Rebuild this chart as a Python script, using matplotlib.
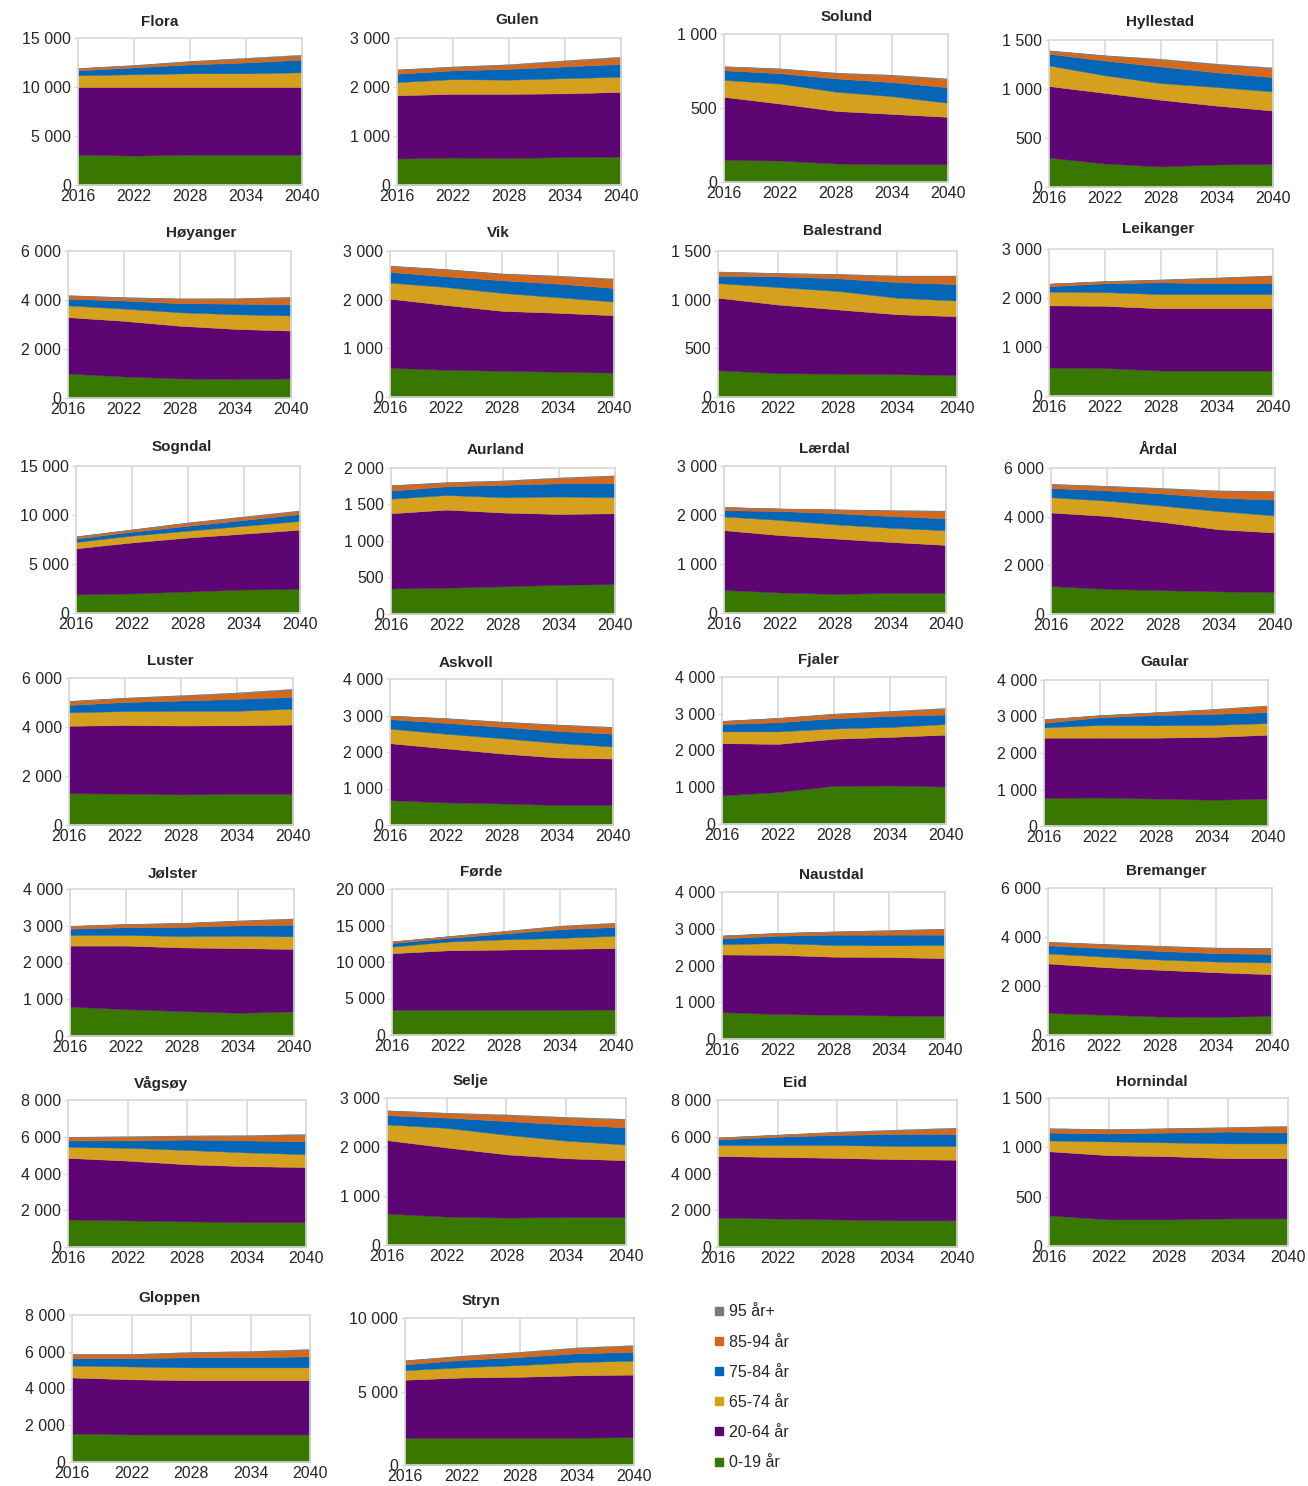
import matplotlib
matplotlib.use('Agg')
import matplotlib.pyplot as plt
from matplotlib.ticker import FuncFormatter, MultipleLocator
from matplotlib.lines import Line2D

plt.rcParams['font.family'] = ['Liberation Sans', 'DejaVu Sans']

years = [2016, 2022, 2028, 2034, 2040]

kommuner = ['Flora', 'Gulen', 'Solund', 'Hyllestad',
            'Høyanger', 'Vik', 'Balestrand', 'Leikanger',
            'Sogndal', 'Aurland', 'Lærdal', 'Årdal',
            'Luster', 'Askvoll', 'Fjaler', 'Gaular',
            'Jølster', 'Førde', 'Naustdal', 'Bremanger',
            'Vågsøy', 'Selje', 'Eid', 'Hornindal',
            'Gloppen', 'Stryn']

age_groups = ['0-19 år', '20-64 år', '65-74 år', '75-84 år', '85-94 år', '95 år+']
colors = ['#387800', '#5c0573', '#d4a01e', '#0566b8', '#d4691e', '#7a7a7a']

# population per age group, one row per kommune, values at the years above
age_0_19 = [
    [3100, 3000, 3100, 3100, 3100], [540, 560, 550, 570, 580],
    [150, 145, 125, 120, 120], [300, 240, 210, 230, 235],
    [1000, 880, 800, 780, 800], [600, 560, 540, 520, 500],
    [275, 245, 240, 235, 225], [580, 570, 520, 520, 520],
    [1900, 2000, 2200, 2400, 2450], [350, 360, 380, 400, 410],
    [470, 420, 390, 410, 410], [1150, 1030, 980, 930, 900],
    [1300, 1280, 1250, 1270, 1270], [680, 620, 590, 550, 550],
    [780, 870, 1040, 1050, 1020], [770, 780, 750, 720, 750],
    [800, 730, 680, 630, 670], [3450, 3450, 3450, 3450, 3500],
    [730, 680, 660, 640, 630], [900, 830, 750, 740, 780],
    [1500, 1450, 1400, 1350, 1350], [640, 580, 560, 570, 570],
    [1600, 1550, 1500, 1450, 1450], [310, 270, 270, 280, 280],
    [1550, 1500, 1500, 1500, 1500], [1850, 1850, 1850, 1850, 1900],
]
age_20_64 = [
    [6900, 7000, 6900, 6900, 6900], [1290, 1300, 1310, 1300, 1320],
    [425, 385, 355, 340, 320], [730, 720, 680, 600, 545],
    [2300, 2270, 2150, 2040, 1950], [1420, 1330, 1230, 1210, 1180],
    [745, 705, 660, 615, 605], [1270, 1270, 1270, 1270, 1270],
    [4700, 5200, 5500, 5700, 6050], [1030, 1070, 1010, 970, 970],
    [1220, 1170, 1130, 1040, 980], [3020, 3000, 2800, 2550, 2450],
    [2750, 2800, 2810, 2800, 2830], [1560, 1480, 1370, 1300, 1270],
    [1420, 1310, 1280, 1320, 1410], [1650, 1640, 1670, 1720, 1750],
    [1660, 1730, 1730, 1760, 1700], [7750, 8150, 8250, 8350, 8400],
    [1570, 1610, 1580, 1590, 1570], [2020, 1940, 1910, 1820, 1700],
    [3350, 3250, 3100, 3050, 3000], [1500, 1410, 1290, 1200, 1160],
    [3350, 3350, 3350, 3330, 3300], [650, 650, 640, 610, 610],
    [3050, 3000, 2950, 2950, 2950], [3950, 4100, 4150, 4250, 4250],
]
age_65_74 = [
    [1200, 1300, 1400, 1400, 1500], [270, 300, 290, 310, 310],
    [115, 135, 130, 120, 95], [210, 180, 170, 190, 195],
    [480, 500, 550, 600, 620], [330, 370, 370, 320, 280],
    [150, 180, 190, 170, 160], [280, 280, 290, 290, 290],
    [650, 700, 700, 800, 900], [200, 200, 210, 240, 220],
    [280, 310, 290, 290, 300], [630, 630, 670, 750, 700],
    [550, 570, 600, 590, 650], [400, 400, 420, 400, 330],
    [320, 340, 280, 270, 290], [280, 350, 340, 330, 320],
    [290, 290, 310, 340, 340], [900, 1200, 1400, 1500, 1700],
    [280, 320, 320, 320, 360], [410, 430, 420, 440, 480],
    [600, 700, 780, 750, 700], [320, 400, 400, 360, 320],
    [600, 650, 700, 720, 750], [110, 140, 140, 150, 150],
    [650, 700, 700, 700, 700], [650, 700, 800, 900, 950],
]
age_75_84 = [
    [500, 700, 900, 1100, 1300], [170, 180, 220, 240, 260],
    [65, 70, 90, 95, 105], [120, 150, 170, 150, 145],
    [270, 330, 370, 430, 450], [220, 220, 260, 280, 280],
    [75, 110, 130, 160, 170], [110, 180, 240, 220, 220],
    [350, 400, 500, 600, 700], [110, 120, 170, 180, 190],
    [130, 180, 230, 240, 240], [380, 420, 500, 550, 650],
    [300, 370, 420, 490, 480], [260, 300, 310, 330, 350],
    [200, 250, 280, 300, 260], [130, 210, 280, 300, 300],
    [170, 210, 250, 280, 320], [500, 500, 800, 1200, 1200],
    [160, 200, 280, 290, 280], [330, 350, 350, 340, 350],
    [350, 400, 570, 650, 700], [190, 210, 280, 330, 350],
    [300, 450, 550, 650, 650], [80, 80, 100, 120, 110],
    [400, 450, 550, 550, 600], [400, 500, 550, 600, 600],
]
age_85_94 = [
    [200, 200, 300, 400, 400], [80, 70, 80, 110, 130],
    [25, 30, 35, 45, 55], [30, 50, 70, 80, 90],
    [130, 120, 180, 200, 280], [120, 140, 130, 150, 180],
    [40, 30, 40, 60, 80], [50, 40, 50, 110, 150],
    [200, 200, 300, 300, 300], [70, 50, 50, 70, 100],
    [60, 50, 70, 110, 150], [150, 170, 200, 270, 320],
    [150, 160, 190, 230, 290], [90, 120, 130, 160, 170],
    [80, 110, 110, 120, 160], [90, 50, 70, 120, 170],
    [70, 80, 100, 120, 150], [200, 200, 300, 400, 500],
    [70, 70, 80, 110, 150], [130, 150, 190, 200, 220],
    [170, 200, 180, 250, 350], [90, 90, 120, 140, 160],
    [100, 100, 150, 200, 300], [40, 40, 40, 40, 60],
    [200, 200, 250, 300, 350], [250, 250, 300, 350, 400],
]
age_95 = [
    [40, 50, 60, 80, 100], [10, 10, 15, 15, 20],
    [3, 3, 4, 5, 5], [5, 5, 8, 8, 10],
    [20, 20, 20, 25, 30], [10, 10, 10, 15, 15],
    [5, 5, 5, 8, 8], [5, 8, 10, 10, 12],
    [30, 40, 50, 60, 70], [5, 8, 10, 10, 10],
    [5, 5, 8, 10, 10], [20, 20, 30, 30, 40],
    [20, 20, 30, 30, 40], [10, 10, 15, 15, 20],
    [10, 10, 15, 15, 20], [10, 10, 10, 15, 15],
    [10, 10, 10, 15, 20], [40, 50, 60, 80, 100],
    [10, 10, 10, 15, 15], [20, 20, 25, 30, 30],
    [30, 30, 40, 40, 50], [10, 10, 15, 15, 15],
    [20, 20, 30, 40, 50], [5, 5, 5, 5, 8],
    [30, 30, 40, 40, 50], [30, 40, 50, 50, 60],
]

y_max = [15000, 3000, 1000, 1500, 6000, 3000, 1500, 3000, 15000, 2000, 3000, 6000,
         6000, 4000, 4000, 4000, 4000, 20000, 4000, 6000, 8000, 3000, 8000, 1500,
         8000, 10000]
y_step = [5000, 1000, 500, 500, 2000, 1000, 500, 1000, 5000, 500, 1000, 2000,
          2000, 1000, 1000, 1000, 1000, 5000, 1000, 2000, 2000, 1000, 2000, 500,
          2000, 5000]

# layout in pixels: plot frame (left, right, top, bottom) and title centre (x, y)
frames = [
    (78, 302, 38, 185), (397, 621, 38, 185), (724, 948, 34, 182), (1049, 1273, 40, 187),
    (68, 291, 251, 398), (390, 614, 251, 397), (718, 957, 251, 397), (1049, 1273, 249, 396),
    (76, 300, 466, 613), (391, 615, 468, 614), (724, 946, 466, 613), (1051, 1275, 468, 614),
    (69, 293, 678, 825), (390, 613, 679, 825), (722, 946, 677, 824), (1044, 1268, 680, 826),
    (70, 294, 889, 1036), (392, 616, 889, 1035), (722, 945, 892, 1039), (1048, 1272, 888, 1035),
    (68, 306, 1100, 1247), (387, 626, 1098, 1245), (718, 957, 1100, 1247), (1049, 1288, 1098, 1246),
    (72, 310, 1315, 1462), (405, 634, 1318, 1465),
]
title_pos = [
    (160, 22), (517, 20), (847, 17), (1160, 22),
    (201, 233), (498, 233), (842, 231), (1158, 229),
    (182, 447), (496, 450), (824, 449), (1158, 450),
    (170, 661), (466, 663), (818, 660), (1165, 662),
    (173, 873), (481, 871), (831, 875), (1166, 871),
    (161, 1083), (471, 1081), (795, 1083), (1152, 1082),
    (170, 1298), (481, 1301),
]

W, H = 1308, 1486
fig = plt.figure(figsize=(W / 100, H / 100), dpi=100)


def space_thousands(v, pos):
    return f'{int(round(v)):,}'.replace(',', ' ')


for i, name in enumerate(kommuner):
    l, r, t, b = frames[i]
    ax = fig.add_axes([l / W, 1 - b / H, (r - l) / W, (b - t) / H])
    series = [age_0_19[i], age_20_64[i], age_65_74[i], age_75_84[i], age_85_94[i], age_95[i]]
    ax.stackplot(years, series, colors=colors, linewidth=0.3,
                 edgecolor='face')
    ax.set_xlim(2016, 2040)
    ax.set_ylim(0, y_max[i])
    ax.set_xticks(years)
    ax.yaxis.set_major_locator(MultipleLocator(y_step[i]))
    ax.yaxis.set_major_formatter(FuncFormatter(space_thousands))
    ax.set_axisbelow(True)
    ax.grid(axis='x', color='#d9d9d9', linewidth=1.2)
    for s in ax.spines.values():
        s.set_color('#d9d9d9')
        s.set_linewidth(1.2)
    ax.tick_params(axis='x', length=0, pad=3, labelsize=11.5, colors='#262626')
    ax.tick_params(axis='y', length=3, width=1, color='#d9d9d9', pad=2,
                   labelsize=11.5, labelcolor='#262626')
    tx, ty = title_pos[i]
    fig.text(tx / W, 1 - ty / H, name, ha='center', va='center',
             fontsize=11, fontweight='bold', color='#262626')

handles = [Line2D([], [], marker='s', linestyle='', color=c, markersize=6)
           for c in colors]
fig.legend(handles[::-1], age_groups[::-1], loc='upper left',
           bbox_to_anchor=(699 / W, 1 - 1290 / H), frameon=False,
           fontsize=11.5, labelspacing=0.95, handlelength=0.7,
           handletextpad=0.3, labelcolor='#262626')

plt.savefig('out.png', dpi=100)
